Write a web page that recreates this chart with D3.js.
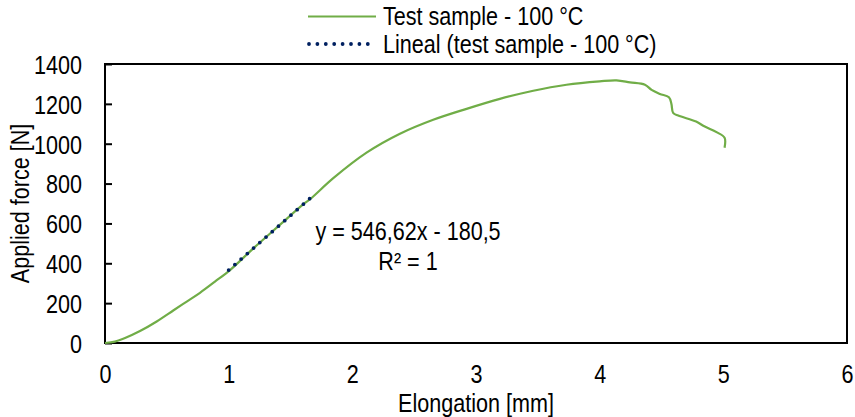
<!DOCTYPE html>
<html>
<head>
<meta charset="utf-8">
<script src="https://cdn.jsdelivr.net/npm/d3@7"></script>
<style>
  html, body { margin: 0; padding: 0; background: #fff; }
  svg text { font-family: "Liberation Sans", Arial, sans-serif; fill: #000; }
</style>
</head>
<body>
<svg id="chart" width="855" height="417"></svg>
<script>
// Tensile test at 100 °C: elongation [mm] vs applied force [N]
const elongation = [0, 0.08, 0.162, 0.283, 0.418, 0.552, 0.661, 0.768, 0.889, 1.011,
  1.2, 1.4, 1.6, 1.665, 1.846, 2.115, 2.385, 2.654, 2.924, 3.193, 3.463, 3.732,
  4.0, 4.136, 4.245, 4.366, 4.42, 4.487, 4.56, 4.58, 4.594, 4.635, 4.78, 4.85,
  4.945, 5.01, 5.01];
const force = [0, 7, 25, 60, 108, 163, 208, 252, 308, 366,
  475, 585, 694, 725, 827, 955, 1050, 1120, 1175, 1225, 1266, 1296,
  1313, 1318, 1308, 1296, 1270, 1250, 1233, 1200, 1155, 1141, 1111, 1086,
  1058, 1030, 980];

// Linear trendline over the elastic region
const fitRange = [1.0, 1.66];
const fitSlope = 546.62;
const fitIntercept = -180.5;
const fitLabel = ["y = 546,62x - 180,5", "R² = 1"];

const xTicks = [0, 1, 2, 3, 4, 5, 6];
const yTicks = [0, 200, 400, 600, 800, 1000, 1200, 1400];
const seriesNames = ["Test sample - 100 °C", "Lineal (test sample - 100 °C)"];

const W = 855, H = 417;
const margin = { top: 64, right: 8, bottom: 74, left: 105 };
const green = "#70AD47", navy = "#002060";
const fontSize = 26;
const squeeze = 0.83;   // horizontal condensing of the sans face

const svg = d3.select("#chart");
const x = d3.scaleLinear().domain([0, 6]).range([margin.left, W - margin.right]);
const y = d3.scaleLinear().domain([0, 1400]).range([H - margin.bottom, margin.top]);

// Condensed text placed at (px, py)
function label(parent, px, py, str, anchor, rotate) {
  return parent.append("text")
    .attr("transform", `translate(${px},${py})${rotate ? " rotate(" + rotate + ")" : ""} scale(${squeeze},1)`)
    .attr("text-anchor", anchor || "start")
    .style("font-size", fontSize + "px")
    .text(str);
}

// Y axis: inward ticks, labels to the left
const yAxis = svg.append("g")
  .attr("transform", `translate(${margin.left},0)`)
  .call(d3.axisLeft(y).tickValues(yTicks).tickSize(-7).tickFormat(d3.format("d")));
yAxis.select(".domain").remove();
yAxis.selectAll(".tick line").attr("stroke", "#000").attr("stroke-width", 2);
yAxis.selectAll(".tick text")
  .attr("x", -23 / squeeze).attr("dy", "0.36em")
  .attr("transform", `scale(${squeeze},1)`)
  .style("font-size", fontSize + "px");

// X axis: labels only
const xAxis = svg.append("g")
  .attr("transform", `translate(0,${H - margin.bottom})`)
  .call(d3.axisBottom(x).tickValues(xTicks).tickSize(0).tickPadding(22).tickFormat(d3.format("d")));
xAxis.select(".domain").remove();
xAxis.selectAll(".tick text")
  .attr("transform", `scale(${squeeze},1)`)
  .style("font-size", fontSize + "px");

// Plot frame
svg.append("rect")
  .attr("x", x(0)).attr("y", y(1400))
  .attr("width", x(6) - x(0)).attr("height", y(0) - y(1400))
  .attr("fill", "none").attr("stroke", "#000").attr("stroke-width", 2);

// Measured curve
const pts = elongation.map((e, i) => [e, force[i]]);
svg.append("path")
  .datum(pts)
  .attr("fill", "none").attr("stroke", green).attr("stroke-width", 2.2)
  .attr("stroke-linejoin", "round")
  .attr("d", d3.line().curve(d3.curveCatmullRom.alpha(0.5)).x(d => x(d[0])).y(d => y(d[1])));

// Trendline (dotted)
const fitPts = fitRange.map(e => [e, fitSlope * e + fitIntercept]);
svg.append("path")
  .datum(fitPts)
  .attr("fill", "none").attr("stroke", navy).attr("stroke-width", 3.8)
  .attr("stroke-linecap", "round").attr("stroke-dasharray", "0 8.3")
  .attr("d", d3.line().x(d => x(d[0])).y(d => y(d[1])));

// Equation label
label(svg, 408, 240, fitLabel[0], "middle");
label(svg, 408, 270, fitLabel[1], "middle");

// Axis titles
label(svg, (x(0) + x(6)) / 2, 412, "Elongation [mm]", "middle");
label(svg, 29, (y(0) + y(1400)) / 2, "Applied force [N]", "middle", -90);

// Legend
const legend = svg.append("g");
legend.append("line")
  .attr("x1", 308).attr("x2", 376).attr("y1", 16.5).attr("y2", 16.5)
  .attr("stroke", green).attr("stroke-width", 2.2);
legend.append("line")
  .attr("x1", 309).attr("x2", 376).attr("y1", 44).attr("y2", 44)
  .attr("stroke", navy).attr("stroke-width", 3.8)
  .attr("stroke-linecap", "round").attr("stroke-dasharray", "0 8.4");
label(legend, 383, 25, seriesNames[0]);
label(legend, 383, 53, seriesNames[1]);
</script>
</body>
</html>
